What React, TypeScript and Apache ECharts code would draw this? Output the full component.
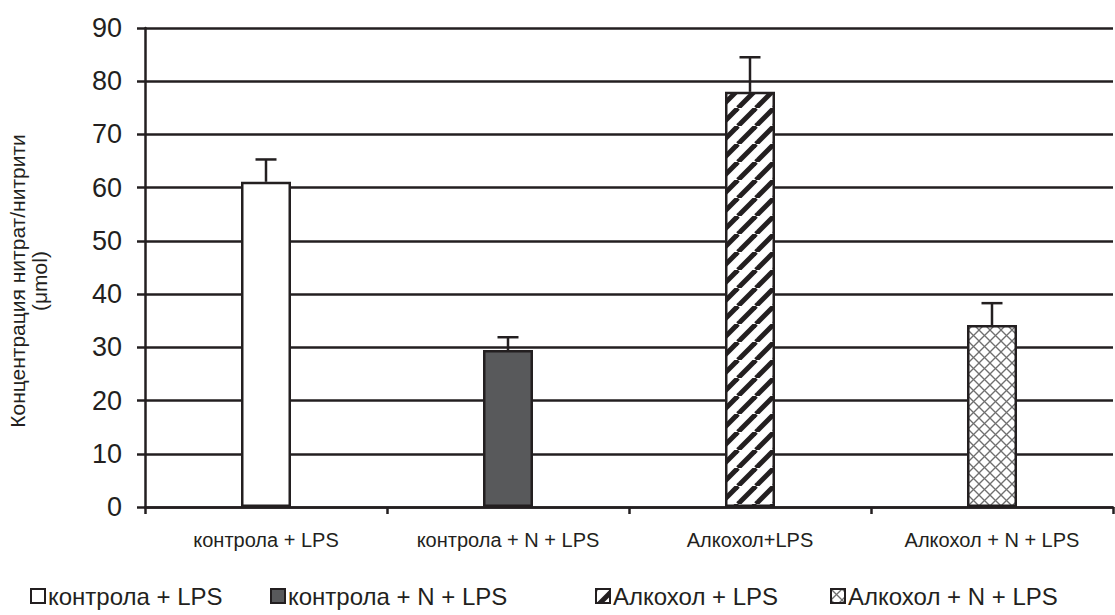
import React, { useEffect, useRef } from "react";
import * as echarts from "echarts";

const categories = ["контрола + LPS", "контрола + N + LPS", "Алкохол+LPS", "Алкохол + N + LPS"];
const legendNames = ["контрола + LPS", "контрола + N + LPS", "Алкохол + LPS", "Алкохол + N + LPS"];
const means = [61.1, 29.5, 78.0, 34.2];
const errors = [4.2, 2.4, 6.5, 4.1];
const yMin = 0;
const yMax = 90;
const yInterval = 10;
const yTitleLines = ["Концентрация нитрат/нитрити", "(μmol)"];

const FONT = "'Liberation Sans', Arial, sans-serif";
const INK = "#231f20";

function stripeTile(): HTMLCanvasElement {
  const s = 18;
  const c = document.createElement("canvas");
  c.width = s;
  c.height = s;
  const ctx = c.getContext("2d")!;
  ctx.fillStyle = "#ffffff";
  ctx.fillRect(0, 0, s, s);
  ctx.strokeStyle = INK;
  ctx.lineWidth = 5;
  for (const off of [-s, 0, s]) {
    ctx.beginPath();
    ctx.moveTo(off, s);
    ctx.lineTo(off + s, 0);
    ctx.stroke();
  }
  return c;
}

function crossTile(): HTMLCanvasElement {
  const s = 11;
  const c = document.createElement("canvas");
  c.width = s;
  c.height = s;
  const ctx = c.getContext("2d")!;
  ctx.fillStyle = "#ffffff";
  ctx.fillRect(0, 0, s, s);
  ctx.strokeStyle = "#6f6f6f";
  ctx.lineWidth = 1.3;
  for (const off of [-s, 0, s]) {
    ctx.beginPath();
    ctx.moveTo(off, s);
    ctx.lineTo(off + s, 0);
    ctx.stroke();
    ctx.beginPath();
    ctx.moveTo(off, 0);
    ctx.lineTo(off + s, s);
    ctx.stroke();
  }
  return c;
}

export default function App() {
  const ref = useRef<HTMLDivElement>(null);
  useEffect(() => {
    document.body.style.margin = "0";
    if (!ref.current) return;
    const chart = echarts.init(ref.current, null, { renderer: "svg" });

    const fills: any[] = [
      "#ffffff",
      "#58595b",
      { image: stripeTile(), repeat: "repeat" },
      { image: crossTile(), repeat: "repeat" },
    ];

    const barSeries = legendNames.map((name, i) => ({
      name,
      type: "bar",
      barWidth: 50,
      barGap: "-100%",
      data: means.map((v, j) => (j === i ? v : "-")),
      itemStyle: { color: fills[i], borderColor: INK, borderWidth: 2.5 },
      z: 3,
    }));

    const legendLefts = [30, 270, 595, 830];

    const option: any = {
      animation: false,
      textStyle: { fontFamily: FONT },
      grid: { left: 145, right: 2, top: 28, bottom: 108, containLabel: false },
      xAxis: {
        type: "category",
        data: categories,
        boundaryGap: true,
        axisLine: { lineStyle: { color: INK, width: 2.5 } },
        axisTick: { show: true, length: 7, lineStyle: { color: INK, width: 2.5 } },
        axisLabel: { color: INK, fontSize: 20, fontFamily: FONT, margin: 23 },
        splitLine: { show: false },
      },
      yAxis: {
        type: "value",
        min: yMin,
        max: yMax,
        interval: yInterval,
        axisLine: { show: true, lineStyle: { color: INK, width: 2.5 } },
        axisTick: { show: true, length: 8, lineStyle: { color: INK, width: 2.5 } },
        axisLabel: { color: INK, fontSize: 27, fontFamily: FONT, margin: 23 },
        splitLine: { show: true, lineStyle: { color: INK, width: 2.5 } },
      },
      legend: legendNames.map((name, i) => ({
        data: [name],
        left: legendLefts[i],
        top: 584,
        icon: "rect",
        itemWidth: 14,
        itemHeight: 14,
        itemGap: 0,
        padding: 0,
        selectedMode: false,
        textStyle: { color: INK, fontSize: 24, fontFamily: FONT, padding: [0, 0, 0, -2] },
      })),
      graphic: [
        {
          type: "text",
          x: 28,
          y: 281,
          rotation: Math.PI / 2,
          style: {
            text: yTitleLines.join("\n"),
            fontSize: 21,
            lineHeight: 22,
            fontFamily: FONT,
            fill: INK,
            align: "center",
            verticalAlign: "middle",
          },
        },
      ],
      series: [
        ...barSeries,
        {
          type: "custom",
          name: "errors",
          z: 5,
          data: means.map((v, i) => [i, v, errors[i]]),
          renderItem: (params: any, api: any) => {
            const i = api.value(0);
            const v = api.value(1);
            const e = api.value(2);
            const p0 = api.coord([i, v]);
            const p1 = api.coord([i, v + e]);
            const style = { stroke: INK, lineWidth: 2.5 };
            return {
              type: "group",
              children: [
                { type: "line", shape: { x1: p0[0], y1: p0[1], x2: p1[0], y2: p1[1] }, style },
                { type: "line", shape: { x1: p1[0] - 10.5, y1: p1[1], x2: p1[0] + 10.5, y2: p1[1] }, style },
              ],
            };
          },
        },
      ],
    };

    chart.setOption(option);
    return () => chart.dispose();
  }, []);

  return <div ref={ref} style={{ width: 1115, height: 615 }} />;
}
